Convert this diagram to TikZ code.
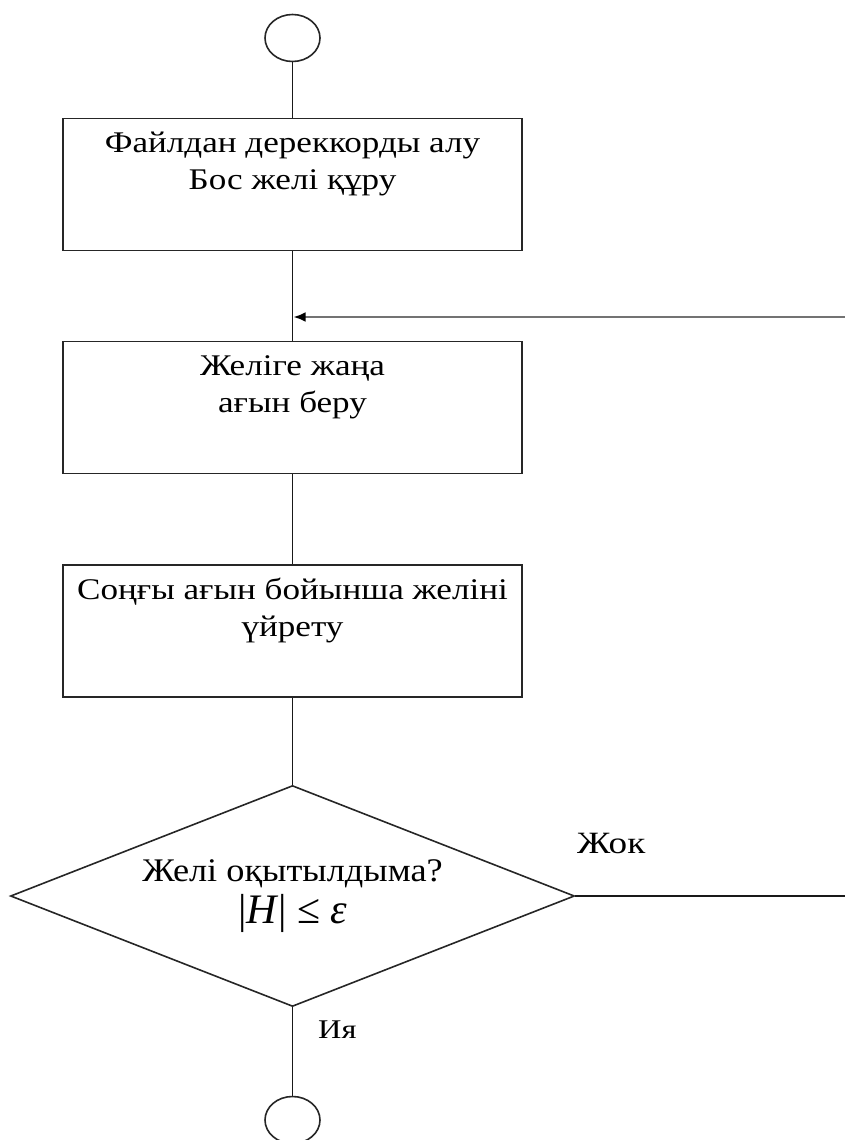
\documentclass[tikz,border=0pt]{standalone}
\usepackage{fontspec}
\setmainfont{Liberation Serif}
\newfontfamily\boxfont[FakeStretch=1.17]{Liberation Serif}
\newfontfamily\askfont[FakeStretch=1.1]{Liberation Serif}
\newfontfamily\tagfont[FakeStretch=1.2]{Liberation Serif}
\usetikzlibrary{shapes.geometric,arrows.meta}

% text of a process box: lines hang from the top edge
\newcommand{\proctext}[1]{\parbox[t][132pt][t]{455pt}{\centering
  \boxfont\fontsize{30}{37}\selectfont\rule{0pt}{34pt}#1}}

\tikzset{
  proc/.style={draw=black!85, line width=1.8pt, rectangle,
    minimum width=459pt, minimum height=132pt, inner sep=0pt},
  term/.style={ellipse, draw=black!85, line width=1.6pt,
    minimum width=55pt, minimum height=47pt, inner sep=0pt},
  dec/.style={diamond, draw=black!85, line width=1.6pt, aspect=2.55,
    minimum width=564pt, minimum height=221pt, inner sep=0pt, align=center},
  flow/.style={draw=black!90, line width=1.6pt},
  back/.style={draw=black!55, line width=2.6pt,
    -{Latex[length=12pt,width=10pt,black]}},
  note/.style={inner sep=0pt, anchor=base west}
}

\begin{document}
\begin{tikzpicture}[x=1pt, y=-1pt]
  \useasboundingbox (0,0) rectangle (845,1140);

  \node[term] (start) at (292.5,38) {};
  \node[proc] (b1) at (292.5,184.5) {\proctext{Файлдан дереккорды алу\\Бос желі құру}};
  \node[proc] (b2) at (292.5,407.5) {\proctext{Желіге жаңа\\ағын беру}};
  \node[proc] (b3) at (292.5,631) {\proctext{Соңғы ағын бойынша желіні\\үйрету}};
  \node[dec] (d) at (292.5,896)
    {{\askfont\fontsize{33}{36}\selectfont Желі оқытылдыма?}\\[5pt]
     {\fontsize{42}{46}\selectfont |\textit{H}|\hspace{10pt}≤\hspace{10pt}\textit{ε}}};
  \node[term] (stop) at (292.5,1120) {};

  \node[note, font=\tagfont\fontsize{31}{34}\selectfont] (no) at (577,853) {Жок};
  \node[note, font=\tagfont\fontsize{27}{30}\selectfont] (yes) at (318,1038) {Ия};

  \coordinate (loopin) at (845,317);
  \coordinate (loopout) at (845,896);
  \coordinate (join) at (293.5,317);

  \draw[flow] (start) -- (b1);
  \draw[flow] (b1) -- (b2);
  \draw[flow] (b2) -- (b3);
  \draw[flow] (b3) -- (d);
  \draw[flow] (d) -- (stop);
  \draw[flow] (d.east) -- (loopout);
  \draw[back] (loopin) -- (join);
\end{tikzpicture}
\end{document}
